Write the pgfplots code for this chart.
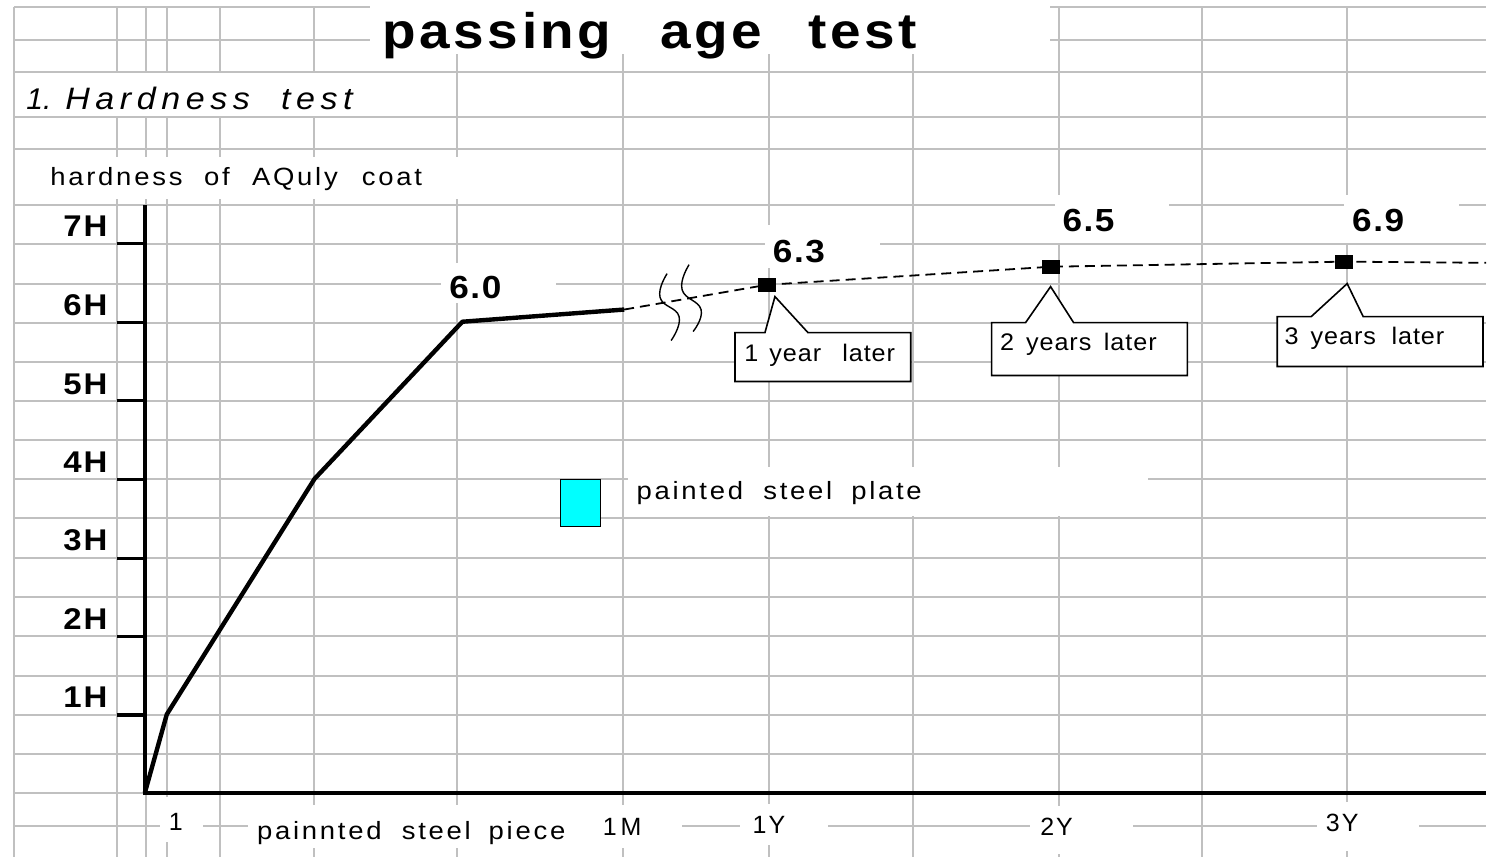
\documentclass[border=0pt]{standalone}
\usepackage{fontspec}
\setmainfont{Liberation Sans}
\usepackage{pgfplots}
\pgfplotsset{compat=1.18}
\definecolor{gridgray}{RGB}{192,192,192}
\definecolor{swatch}{RGB}{0,255,255}
\newfontfamily\LSa[LetterSpace=11,FakeStretch=1.1]{Liberation Sans}
\newfontfamily\LSb[LetterSpace=18,FakeStretch=1.1]{Liberation Sans}
\newfontfamily\LSt[LetterSpace=7,FakeStretch=1.1]{Liberation Sans}
\newfontfamily\LSc[LetterSpace=4,FakeStretch=1.05]{Liberation Sans}
\newfontfamily\LSn[FakeStretch=1.1]{Liberation Sans}
\newcommand{\fA}{\LSa\fontsize{12.5pt}{14pt}\selectfont}
\newcommand{\fC}{\LSc\fontsize{12pt}{14pt}\selectfont}
\newcommand{\fT}{\LSt\bfseries\fontsize{25pt}{28pt}\selectfont}
\newcommand{\fS}{\LSb\itshape\fontsize{15.5pt}{17pt}\selectfont}
\newcommand{\fSn}{\itshape\fontsize{15pt}{17pt}\selectfont}
\newcommand{\fY}{\LSn\bfseries\fontsize{15pt}{17pt}\selectfont}
\newcommand{\fV}{\LSn\bfseries\fontsize{16pt}{18pt}\selectfont}
\newcommand{\fX}{\fontsize{12.5pt}{14pt}\selectfont}
\newcommand{\w}[4]{\node[anchor=base west,inner sep=0pt,font=#3] at (#1,#2) {#4};}
\newcommand{\wc}[4]{\node[anchor=base,inner sep=0pt,font=#3] at (#1,#2) {#4};}
\newcommand{\we}[4]{\node[anchor=base east,inner sep=0pt,font=#3] at (#1,#2) {#4};}
\begin{document}
\begin{tikzpicture}
% ---------- background in pixel coordinates (1px = 0.5pt, y downwards)
\begin{scope}[x=0.5pt,y=-0.5pt,yshift=429pt]
\fill[white] (0,0) rectangle (1488,858);
\foreach \x in {14,117,146,167,220,314,458,624,770,914,1060,1204,1349}
  \draw[gridgray,line width=1pt] (\x,7)--(\x,858);
\foreach \y in {7,40,72,117,149,205,244,284,323,362,402,441,480,519,559,598,637,677,716,755,794,827}
  \draw[gridgray,line width=1pt] (14,\y)--(1488,\y);
% white cells behind texts
\fill[white] (370,0) rectangle (1051,54);
\fill[white] (16,73) rectangle (420,116);
\fill[white] (16,157) rectangle (470,199);
\fill[white] (442,263) rectangle (557,303);
\fill[white] (766,225) rectangle (881,268);
\fill[white] (1056,195) rectangle (1171,243);
\fill[white] (1346,195) rectangle (1461,243);
\fill[white] (629,468) rectangle (1150,517);
\fill[white] (160,798) rectangle (203,843);
\fill[white] (248,806) rectangle (683,849);
\fill[white] (741,805) rectangle (829,846);
\fill[white] (1031,807) rectangle (1135,855);
\fill[white] (1319,803) rectangle (1421,852);
% title and headings
\w{383}{49}{\fT}{passing}
\w{661}{49}{\fT}{age}
\w{809}{49}{\fT}{test}
\w{26}{110}{\fSn}{1.}
\w{65}{110}{\fS}{Hardness}
\w{281}{110}{\fS}{test}
\w{50}{186}{\fA}{hardness}
\w{204}{186}{\fA}{of}
\w{252}{186}{\fA}{AQuly}
\w{362}{186}{\fA}{coat}
% y axis, ticks and tick labels
\draw[line width=2pt] (145,205)--(145,794)--(1488,794);
\foreach \y in {244,323,401,480,559,637,716}
  \draw[line width=1.6pt] (117,\y)--(145,\y);
\we{108}{237}{\fY}{7\kern1pt H}
\we{108}{316}{\fY}{6\kern1pt H}
\we{108}{395}{\fY}{5\kern1pt H}
\we{108}{473}{\fY}{4\kern1pt H}
\we{108}{551}{\fY}{3\kern1pt H}
\we{108}{630}{\fY}{2\kern1pt H}
\we{108}{708}{\fY}{1\kern1pt H}
% x labels
\wc{176}{832}{\fX}{1}
\w{257}{841}{\fA}{painnted}
\w{402}{841}{\fA}{steel}
\w{489}{841}{\fA}{piece}
\wc{623}{837}{\fX}{1\kern2pt M}
\wc{770}{835}{\fX}{1\kern1pt Y}
\wc{1058}{837}{\fX}{2\kern1pt Y}
\wc{1344}{833}{\fX}{3\kern1pt Y}
% value labels
\wc{476}{299}{\fV}{6\kern0.8pt.\kern0.8pt0}
\wc{800}{263}{\fV}{6\kern0.8pt.\kern0.8pt3}
\wc{1090}{232}{\fV}{6\kern0.8pt.\kern0.8pt5}
\wc{1380}{232}{\fV}{6\kern0.8pt.\kern0.8pt9}
% legend swatch
\filldraw[fill=swatch,draw=black,line width=0.6pt] (561,480) rectangle (601,527);
\w{637}{500}{\fA}{painted}
\w{764}{500}{\fA}{steel}
\w{852}{500}{\fA}{plate}
% callouts
\filldraw[fill=white,draw=black,line width=0.8pt] (736,333)--(766,333)--(776,297)--(809,333)--(912,333)--(912,382)--(736,382)--cycle;
\filldraw[fill=white,draw=black,line width=0.8pt] (993,323)--(1027,323)--(1052,287)--(1075,323)--(1189,323)--(1189,376)--(993,376)--cycle;
\filldraw[fill=white,draw=black,line width=0.8pt] (1279,317)--(1313,317)--(1349,284)--(1365,317)--(1485,317)--(1485,367)--(1279,367)--cycle;
\w{745}{362}{\fC}{1}
\w{770}{362}{\fC}{year}
\w{843}{362}{\fC}{later}
\w{1001}{351}{\fC}{2}
\w{1027}{351}{\fC}{years}
\w{1105}{351}{\fC}{later}
\w{1286}{345}{\fC}{3}
\w{1312}{345}{\fC}{years}
\w{1393}{345}{\fC}{later}
% break marks
\draw[line width=0.7pt] plot[smooth,tension=0.8] coordinates {(668,274) (661,298) (680,317) (672,341)};
\draw[line width=0.7pt] plot[smooth,tension=0.8] coordinates {(690,265) (683,290) (702,310) (694,332)};
\end{scope}
% ---------- data
\begin{axis}[at={(0pt,0pt)},anchor=south west,scale only axis,
  width=744pt,height=429pt,
  xmin=0,xmax=1488,ymin=-0.8138,ymax=10.0966,
  hide axis,clip=false]
\addplot[line width=2.2pt,line join=round] coordinates {(145,0) (167,1.0) (315,4.0) (463,6.0) (625,6.155)};
\addplot[line width=0.9pt,dash pattern=on 5pt off 3pt] coordinates {(625,6.155) (768,6.47) (1052,6.70) (1346,6.765) (1488,6.75)};
\addplot[only marks,mark=square*,mark size=3.8pt,mark options={fill=black,xscale=1.1,yscale=0.85}] coordinates {(768,6.47) (1052,6.70) (1346,6.765)};
\end{axis}
\end{tikzpicture}
\end{document}
